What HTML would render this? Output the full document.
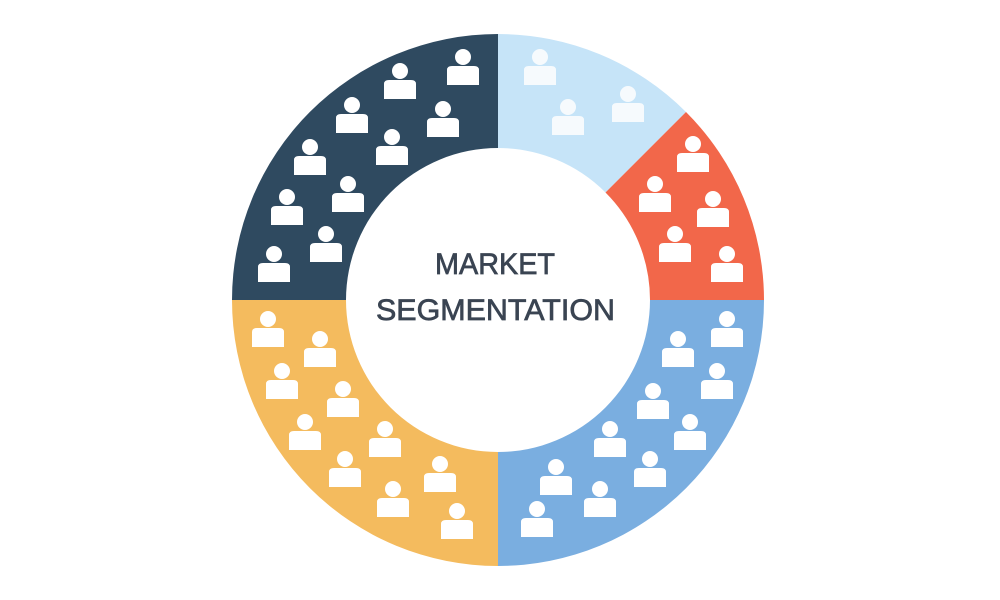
<!DOCTYPE html>
<html><head><meta charset="utf-8"><style>html,body{margin:0;padding:0;background:#fff;}svg{display:block}</style></head>
<body>
<svg width="1000" height="600" viewBox="0 0 1000 600" xmlns="http://www.w3.org/2000/svg">
<defs>
<g id="p"><circle cx="0" cy="-13" r="8" fill="#fff"/><path d="M-16,15 L-16,0 Q-16,-4 -11,-4 L11,-4 Q16,-4 16,0 L16,15 Z" fill="#fff"/></g>
</defs>
<path d="M232,300 A266,266 0 0 1 498,34 L498,148 A152,152 0 0 0 346,300 Z" fill="#2f4a60"/>
<path d="M498,34 A266,266 0 0 1 686,112 L605.5,192.5 A152,152 0 0 0 498,148 Z" fill="#c6e4f8"/>
<path d="M686,112 A266,266 0 0 1 764,300 L650,300 A152,152 0 0 0 605.5,192.5 Z" fill="#f2674a"/>
<path d="M764,300 A266,266 0 0 1 498,566 L498,452 A152,152 0 0 0 650,300 Z" fill="#7aaee0"/>
<path d="M498,566 A266,266 0 0 1 232,300 L346,300 A152,152 0 0 0 498,452 Z" fill="#f4bb5e"/>
<g>
<use href="#p" x="463" y="70"/><use href="#p" x="400" y="84"/><use href="#p" x="352" y="118"/><use href="#p" x="443" y="122"/><use href="#p" x="392" y="150"/><use href="#p" x="310" y="160"/><use href="#p" x="348" y="197"/><use href="#p" x="287" y="210"/><use href="#p" x="326" y="247"/><use href="#p" x="274" y="267"/>
</g>
<g opacity="0.85">
<use href="#p" x="540" y="70"/><use href="#p" x="628" y="107"/><use href="#p" x="568" y="120"/>
</g>
<g>
<use href="#p" x="693" y="157"/><use href="#p" x="655" y="197"/><use href="#p" x="713" y="212"/><use href="#p" x="675" y="247"/><use href="#p" x="727" y="267"/>
<use href="#p" x="727" y="332"/><use href="#p" x="678" y="352"/><use href="#p" x="717" y="384"/><use href="#p" x="653" y="404"/><use href="#p" x="690" y="435"/><use href="#p" x="610" y="442"/><use href="#p" x="650" y="472"/><use href="#p" x="556" y="480"/><use href="#p" x="600" y="502"/><use href="#p" x="537" y="522"/>
<use href="#p" x="268" y="332"/><use href="#p" x="320" y="352"/><use href="#p" x="282" y="384"/><use href="#p" x="343" y="402"/><use href="#p" x="305" y="435"/><use href="#p" x="385" y="442"/><use href="#p" x="345" y="472"/><use href="#p" x="440" y="477"/><use href="#p" x="393" y="502"/><use href="#p" x="457" y="524"/>
</g>
<g font-family="Liberation Sans, sans-serif" font-size="30" fill="#3a4452" stroke="#3a4452" stroke-width="0.7">
<text x="435" y="274" textLength="120" lengthAdjust="spacingAndGlyphs">MARKET</text>
<text x="376" y="320" textLength="239" lengthAdjust="spacingAndGlyphs">SEGMENTATION</text>
</g>
</svg>
</body></html>
